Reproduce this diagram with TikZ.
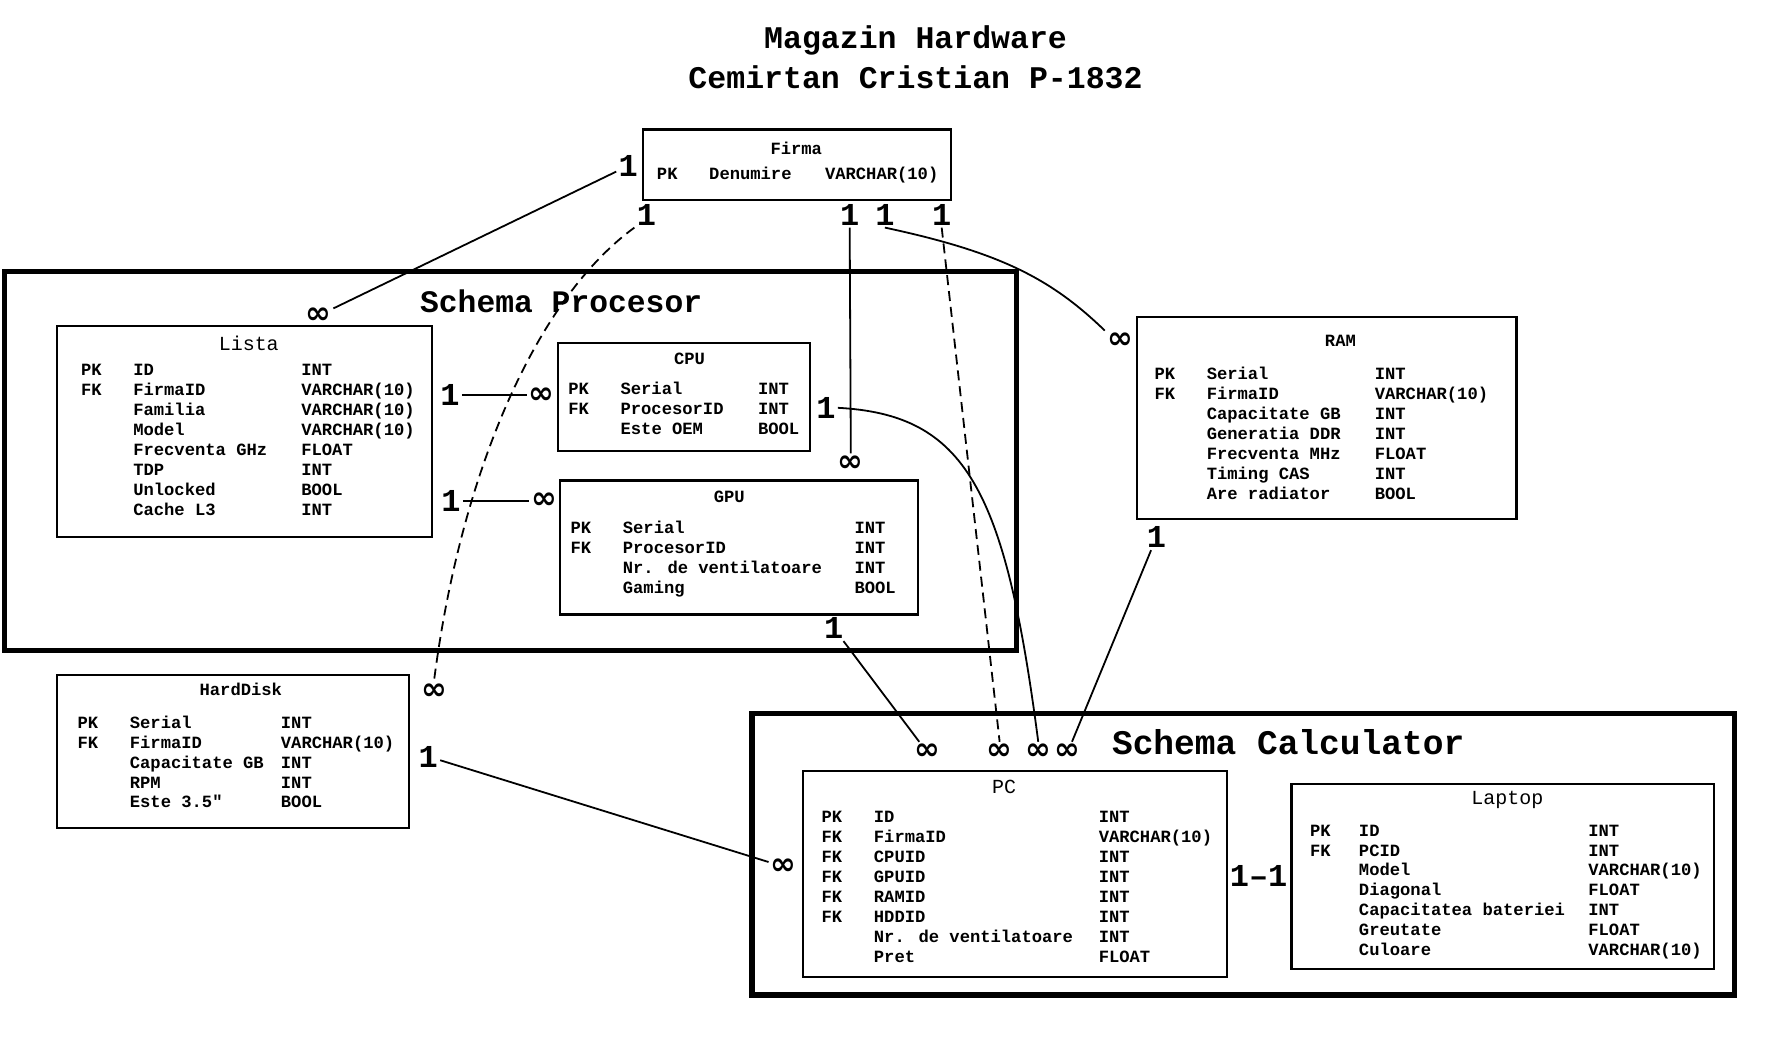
\documentclass[tikz,border=0pt]{standalone}
\usepackage{fontspec}
\newfontfamily\monofnt{Liberation Mono}
\newfontfamily\symfnt{DejaVu Sans}

\tikzset{
	tbl/.style={draw, line width=1.1pt},
	schema/.style={draw, line width=2.6pt},
	rows/.style={inner sep=0pt, anchor=base west, font=\monofnt\bfseries\fontsize{8.6}{10}\selectfont},
	ttl/.style={inner sep=0pt, font=\monofnt\bfseries\fontsize{8.6}{10}\selectfont},
	bigttl/.style={inner sep=0pt, font=\monofnt\fontsize{10}{12}\selectfont},
	heading/.style={inner sep=0pt, font=\monofnt\bfseries\fontsize{#1}{#1}\selectfont},
	one/.style={inner sep=1pt, font=\monofnt\bfseries\fontsize{16}{16}\selectfont},
	many/.style={inner sep=1pt, font=\symfnt\bfseries\fontsize{15.5}{15.5}\selectfont},
	rel/.style={line width=0.9pt},
	weak/.style={rel, dash pattern=on 5pt off 3pt},
}

\begin{document}
\begin{tikzpicture}[x=0.02cm, y=-0.02cm]
		\useasboundingbox (0, 0) rectangle (1567, 916);

		% title
		\node[heading=15.8] (title1) at (806, 36) {Magazin Hardware};
		\node[heading=15.8] (title2) at (806, 68) {Cemirtan Cristian P-1832};

		% schemas
		\draw[schema] (4, 239) rectangle (895, 573);
		\node[heading=15.7] (schemaProc) at (494, 265) {Schema Procesor};
		\draw[schema] (662, 628) rectangle (1527, 876);
		\node[heading=17.3] (schemaCalc) at (1134, 653) {Schema Calculator};

		% Firma
		\draw[tbl] (566, 114) rectangle (837, 176);
		\node[ttl] (firmaT) at (701, 131) {Firma};
		\node[rows] (firmaR) at (578, 158) {\begin{tabular}[t]{@{}p{0.92cm}@{}p{2.04cm}@{}l@{}}
			PK & Denumire & VARCHAR(10)
		\end{tabular}};

		% Lista
		\draw[tbl] (50, 287) rectangle (380, 473);
		\node[bigttl] (listaT) at (219, 302) {Lista};
		\node[rows] (listaR) at (71, 331) {\begin{tabular}[t]{@{}p{0.92cm}@{}p{2.96cm}@{}l@{}}
			PK & ID & INT\\
			FK & FirmaID & VARCHAR(10)\\
			& Familia & VARCHAR(10)\\
			& Model & VARCHAR(10)\\
			& Frecventa GHz & FLOAT\\
			& TDP & INT\\
			& Unlocked & BOOL\\
			& Cache L3 & INT
		\end{tabular}};

		% CPU
		\draw[tbl] (491, 302) rectangle (713, 397);
		\node[ttl] (cpuT) at (607, 316) {CPU};
		\node[rows] (cpuR) at (500, 347) {\begin{tabular}[t]{@{}p{0.92cm}@{}p{2.42cm}@{}l@{}}
			PK & Serial & INT\\
			FK & ProcesorID & INT\\
			& Este OEM & BOOL
		\end{tabular}};

		% GPU
		\draw[tbl] (493, 423) rectangle (808, 541);
		\node[ttl] (gpuT) at (642, 437) {GPU};
		\node[rows] (gpuR) at (502, 470) {\begin{tabular}[t]{@{}p{0.92cm}@{}p{4.08cm}@{}l@{}}
			PK & Serial & INT\\
			FK & ProcesorID & INT\\
			& Nr. de ventilatoare & INT\\
			& Gaming & BOOL
		\end{tabular}};

		% RAM
		\draw[tbl] (1001, 279) rectangle (1335, 457);
		\node[ttl] (ramT) at (1180, 300) {RAM};
		\node[rows] (ramR) at (1016, 334) {\begin{tabular}[t]{@{}p{0.92cm}@{}p{2.96cm}@{}l@{}}
			PK & Serial & INT\\
			FK & FirmaID & VARCHAR(10)\\
			& Capacitate GB & INT\\
			& Generatia DDR & INT\\
			& Frecventa MHz & FLOAT\\
			& Timing CAS & INT\\
			& Are radiator & BOOL
		\end{tabular}};

		% HardDisk
		\draw[tbl] (50, 594) rectangle (360, 729);
		\node[ttl] (hddT) at (212, 607) {HardDisk};
		\node[rows] (hddR) at (68, 641) {\begin{tabular}[t]{@{}p{0.92cm}@{}p{2.66cm}@{}l@{}}
			PK & Serial & INT\\
			FK & FirmaID & VARCHAR(10)\\
			& Capacitate GB & INT\\
			& RPM & INT\\
			& Este 3.5" & BOOL
		\end{tabular}};

		% PC
		\draw[tbl] (707, 679) rectangle (1080, 860);
		\node[bigttl] (pcT) at (884, 693) {PC};
		\node[rows] (pcR) at (723, 724) {\begin{tabular}[t]{@{}p{0.92cm}@{}p{3.96cm}@{}l@{}}
			PK & ID & INT\\
			FK & FirmaID & VARCHAR(10)\\
			FK & CPUID & INT\\
			FK & GPUID & INT\\
			FK & RAMID & INT\\
			FK & HDDID & INT\\
			& Nr. de ventilatoare & INT\\
			& Pret & FLOAT
		\end{tabular}};

		% Laptop
		\draw[tbl] (1137, 690) rectangle (1509, 853);
		\node[bigttl] (laptopT) at (1327, 704) {Laptop};
		\node[rows] (laptopR) at (1153, 736) {\begin{tabular}[t]{@{}p{0.86cm}@{}p{4.04cm}@{}l@{}}
			PK & ID & INT\\
			FK & PCID & INT\\
			& Model & VARCHAR(10)\\
			& Diagonal & FLOAT\\
			& Capacitatea bateriei & INT\\
			& Greutate & FLOAT\\
			& Culoare & VARCHAR(10)
		\end{tabular}};

		% cardinalities
		\node[one] (firmaOneA) at (553, 146) {1};
		\node[one] (firmaOneB) at (569, 189) {1};
		\node[one] (firmaOneC) at (748, 189) {1};
		\node[one] (firmaOneD) at (779, 189) {1};
		\node[one] (firmaOneE) at (829, 189) {1};
		\node[one] (listaOneA) at (396, 348) {1};
		\node[one] (listaOneB) at (397, 441) {1};
		\node[one] (cpuOne) at (727, 359) {1};
		\node[one] (gpuOne) at (734, 553) {1};
		\node[one] (ramOne) at (1018, 473) {1};
		\node[one] (hddOne) at (377, 666) {1};
		\node[one] (pcLaptop) at (1108, 771) {1–1};

		\node[many] (listaMany) at (280, 278) {∞};
		\node[many] (hddMany) at (382, 609) {∞};
		\node[many] (gpuMany) at (749, 408) {∞};
		\node[many] (ramMany) at (986, 300) {∞};
		\node[many] (cpuMany) at (477, 348) {∞};
		\node[many] (gpuManyB) at (479, 441) {∞};
		\node[many] (pcManyA) at (816, 662) {∞};
		\node[many] (pcManyB) at (880, 662) {∞};
		\node[many] (pcManyC) at (914, 662) {∞};
		\node[many] (pcManyD) at (940, 662) {∞};
		\node[many] (pcManyE) at (690, 763) {∞};

		% relations
		\draw[rel] (firmaOneA) -- (listaMany);
		\draw[weak] (firmaOneB.south west) .. controls (470, 265) and (405, 420) .. (hddMany.north);
		\draw[rel] (firmaOneC.south) -- (gpuMany.north);
		\draw[rel] (firmaOneD.south) .. controls (880, 222) and (925, 245) .. (ramMany.north west);
		\draw[weak] (firmaOneE.south) -- (pcManyB.north);
		\draw[rel] (listaOneA) -- (cpuMany);
		\draw[rel] (listaOneB) -- (gpuManyB);
		\draw[rel] (cpuOne.east) .. controls (850, 365) and (885, 430) .. (pcManyC.north);
		\draw[rel] (gpuOne) -- (pcManyA);
		\draw[rel] (ramOne) -- (pcManyD);
		\draw[rel] (hddOne) -- (pcManyE);

	\end{tikzpicture}
\end{document}
